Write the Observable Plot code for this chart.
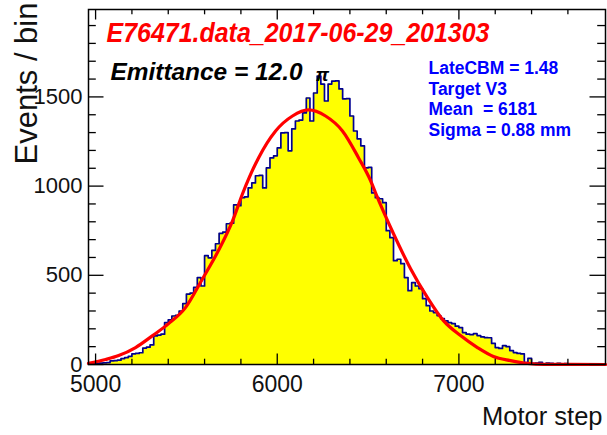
<!DOCTYPE html>
<html><head><meta charset="utf-8">
<script src="https://cdn.jsdelivr.net/npm/d3@7"></script>
<script src="https://cdn.jsdelivr.net/npm/@observablehq/plot@0.6"></script>
<style>body{margin:0;background:#fff}svg{display:block}</style>
</head><body><div id="chart"></div>
<script>
// ---- data ----
const binStart = 4960;
const binWidth = 20;
const counts = [
  6, 5, 6, 8, 9, 11, 20, 22, 24, 33,
  39, 45, 60, 62, 66, 92, 97, 110, 160, 165,
  170, 235, 250, 272, 276, 300, 341, 395, 400, 432,
  487, 440, 610, 598, 640, 677, 735, 742, 789, 792,
  895, 890, 935, 940, 990, 1018, 1058, 1060, 990, 1102,
  1158, 1170, 1214, 1298, 1300, 1198, 1321, 1365, 1370, 1410,
  1494, 1365, 1522, 1617, 1572, 1477, 1572, 1589, 1590, 1545,
  1489, 1490, 1393, 1309, 1265, 1226, 1102, 1105, 962, 935,
  929, 907, 750, 711, 582, 590, 565, 487, 414, 459,
  440, 425, 369, 330, 300, 291, 274, 257, 245, 235,
  229, 215, 207, 179, 170, 168, 173, 162, 155, 151,
  150, 118, 95, 90, 106, 100, 78, 67, 62, 60,
  11, 34, 6, 8, 12, 4, 8, 6, 3, 7,
  2, 5, 0, 4, 0, 0, 0, 0, 0, 0,
  0, 0
];
const fitX = [4961, 5055, 5127, 5220, 5314, 5402, 5495, 5589, 5677, 5754, 5809, 5897, 5991, 6084, 6172,
              6266, 6359, 6448, 6514, 6541, 6640, 6734, 6827, 6915, 7009, 7102, 7190, 7284, 7378, 7470, 7807];
const fitY = [6, 28, 50, 95, 162, 229, 319, 481, 640, 805, 957, 1158, 1309, 1393, 1427,
              1393, 1309, 1158, 1030, 962, 733, 537, 375, 246, 162, 95, 45, 22, 6, 1, 0];
const xMajorTicks = [5000, 6000, 7000];
const xMinorTicks = [5200, 5400, 5600, 5800, 6200, 6400, 6600, 6800, 7200, 7400, 7600];
const yMajorTicks = [0, 500, 1000, 1500];
const yMinorTicks = [100, 200, 300, 400, 600, 700, 800, 900, 1100, 1200, 1300, 1400, 1600, 1700, 1800, 1900];
const titleText = "E76471.data_2017-06-29_201303";
const emittanceText = "Emittance = 12.0";
const piText = "π";
const statsLines = ["LateCBM = 1.48", "Target V3", "Mean  = 6181", "Sigma = 0.88 mm"];
const xTitle = "Motor step";
const yTitle = "Events / bin";

// ---- build tables ----
const hist = counts.map((c, i) => ({x: binStart + i * binWidth, y: c}));
hist.push({x: binStart + counts.length * binWidth, y: counts[counts.length - 1]});
const fit = fitX.map((x, i) => ({x, y: fitY[i]}));

const W = 607, H = 435, mL = 88, mR = 2, mT = 9, mB = 71;
const frameW = W - mL - mR, frameH = H - mT - mB;
const font = "'Liberation Sans', Arial, Helvetica, sans-serif";
const tick = (o) => ({stroke: "black", strokeWidth: 1.3, ...o});

const plot = Plot.plot({
  width: W, height: H,
  marginLeft: mL, marginRight: mR, marginTop: mT, marginBottom: mB,
  x: {domain: [4961, 7807]},
  y: {domain: [0, 1990]},
  style: {fontFamily: font, background: "white", overflow: "visible", color: "#111"},
  marks: [
    Plot.areaY(hist, {x: "x", y: "y", curve: "step-after", fill: "#ffff00"}),
    Plot.lineY(hist, {x: "x", y: "y", curve: "step-after", stroke: "#000092", strokeWidth: 1.7}),
    Plot.line(fit, {x: "x", y: "y", curve: "monotone-x", stroke: "#ff0000", strokeWidth: 3.2}),
    Plot.frame({stroke: "black", strokeWidth: 1.5}),
    // bottom ticks
    Plot.tickX(xMajorTicks, tick({x: d => d, insetTop: frameH - 10.5})),
    Plot.tickX(xMinorTicks, tick({x: d => d, insetTop: frameH - 5.3})),
    // top ticks
    Plot.tickX(xMajorTicks, tick({x: d => d, insetBottom: frameH - 10.5})),
    Plot.tickX(xMinorTicks, tick({x: d => d, insetBottom: frameH - 5.3})),
    // left ticks
    Plot.tickY(yMajorTicks, tick({y: d => d, insetRight: frameW - 15.5})),
    Plot.tickY(yMinorTicks, tick({y: d => d, insetRight: frameW - 7.8})),
    // right ticks
    Plot.tickY(yMajorTicks, tick({y: d => d, insetLeft: frameW - 15.5})),
    Plot.tickY(yMinorTicks, tick({y: d => d, insetLeft: frameW - 7.8})),
    Plot.axisX({ticks: xMajorTicks, tickSize: 0, tickPadding: 11, fontSize: 23, tickFormat: d => String(d), label: null}),
    Plot.axisY({ticks: yMajorTicks, tickSize: 0, tickPadding: 6, fontSize: 22, tickFormat: d => String(d), label: null}),
    Plot.text([titleText], {text: d => d, frameAnchor: "top-left", dx: 18, dy: 24, textAnchor: "start", lineAnchor: "middle",
      fill: "#ff0000", fontSize: 28, fontWeight: "bold", fontStyle: "italic"}),
    Plot.text([emittanceText], {text: d => d, frameAnchor: "top-left", dx: 22, dy: 62.5, textAnchor: "start", lineAnchor: "middle",
      fill: "black", fontSize: 24, fontWeight: "bold", fontStyle: "italic"}),
    Plot.text([piText], {text: d => d, frameAnchor: "top-left", dx: 227, dy: 65, textAnchor: "start", lineAnchor: "middle",
      fill: "black", fontSize: 19, fontWeight: "bold", fontStyle: "italic"}),
    ...statsLines.map((s, i) => Plot.text([s], {text: d => d, frameAnchor: "top-left", dx: 340, dy: 59 + i * 20.5,
      textAnchor: "start", lineAnchor: "middle", fill: "#0000ff", fontSize: 17.5, fontWeight: "bold"})),
    Plot.text([xTitle], {text: d => d, frameAnchor: "bottom-right", dx: -3, dy: 52, textAnchor: "end", lineAnchor: "middle",
      fill: "#111", fontSize: 25.5}),
    Plot.text([yTitle], {text: d => d, frameAnchor: "top-left", dx: -61, dy: -7, rotate: -90, textAnchor: "end", lineAnchor: "middle",
      fill: "#111", fontSize: 31})
  ]
});

// text fitting to the measured widths
const fitWidths = new Map([[titleText, 383], [emittanceText, 192]]);
plot.querySelectorAll("text").forEach(t => {
  t.style.whiteSpace = "pre";
  const w = fitWidths.get(t.textContent);
  if (w) { t.setAttribute("textLength", w); t.setAttribute("lengthAdjust", "spacingAndGlyphs"); }
});
document.getElementById("chart").appendChild(plot);
</script>
</body></html>
